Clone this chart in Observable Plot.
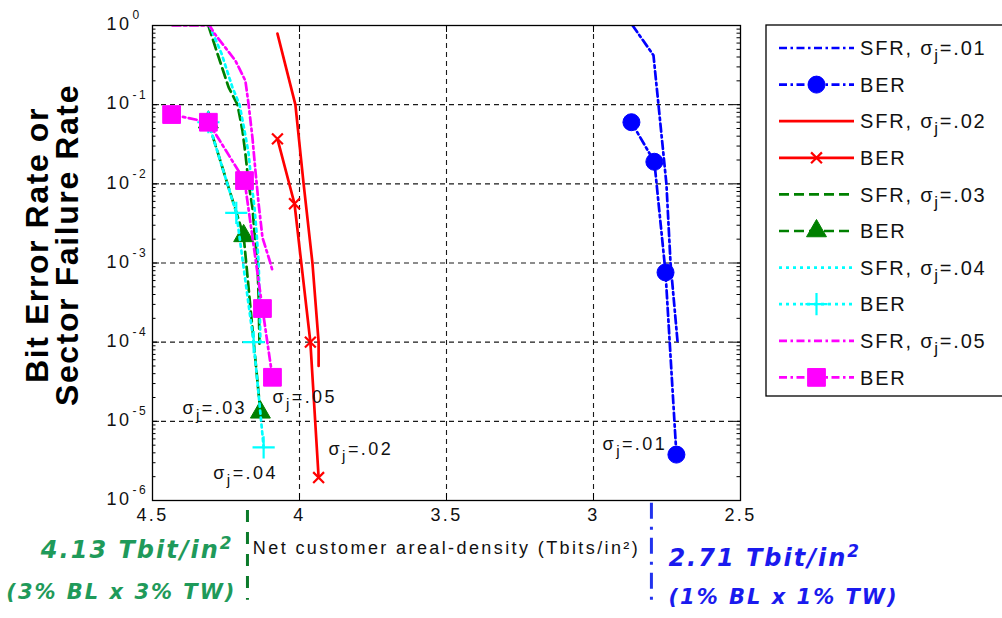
<!DOCTYPE html>
<html>
<head>
<meta charset="utf-8">
<script src="https://cdn.jsdelivr.net/npm/d3@7"></script>
<script src="https://cdn.jsdelivr.net/npm/@observablehq/plot@0.6"></script>
<style>
  html, body { margin: 0; padding: 0; background: #fff; }
  #chart { position: relative; width: 1002px; height: 618px; overflow: hidden; }
</style>
</head>
<body>
<div id="chart"></div>
<script>
// ---------- Data ----------
const sfr01X = [2.867, 2.796, 2.779, 2.752, 2.738, 2.714];
const sfr01Y = [1, 0.42, 0.1, 0.01, 1e-3, 1e-4];
const ber01X = [2.871, 2.793, 2.755, 2.718];
const ber01Y = [0.06, 0.019, 7.6e-4, 3.8e-6];

const sfr02X = [4.075, 4.014, 3.986, 3.956, 3.935, 3.935];
const sfr02Y = [0.79, 0.1, 0.01, 1e-3, 1e-4, 5e-5];
const ber02X = [4.075, 4.017, 3.963, 3.935];
const ber02Y = [0.037, 0.0056, 1e-4, 1.95e-6];

const sfr03X = [4.310, 4.279, 4.241, 4.211, 4.194, 4.184, 4.173, 4.160, 4.153, 4.143, 4.139, 4.136];
const sfr03Y = [1, 0.44, 0.165, 0.1, 0.047, 0.024, 0.01, 0.005, 0.0024, 1e-3, 3.7e-4, 9e-5];
const ber03X = [4.310, 4.190, 4.133];
const ber03Y = [0.06, 2.2e-3, 1.3e-5];

const sfr04X = [4.306, 4.265, 4.228, 4.204, 4.187, 4.173, 4.163, 4.153, 4.146, 4.139, 4.136, 4.133];
const sfr04Y = [1, 0.44, 0.165, 0.1, 0.047, 0.024, 0.01, 0.005, 0.0024, 1e-3, 3.7e-4, 1e-4];
const ber04X = [4.310, 4.215, 4.156, 4.122];
const ber04Y = [0.06, 4.3e-3, 1e-4, 4.7e-6];

const sfr05X = [4.432, 4.306, 4.289, 4.218, 4.184, 4.173, 4.160, 4.150, 4.139, 4.126, 4.099, 4.092];
const sfr05Y = [1, 1, 0.79, 0.36, 0.2, 0.1, 0.038, 0.0147, 0.0056, 0.0021, 1e-3, 8e-4];
const ber05X = [4.435, 4.310, 4.187, 4.126, 4.092];
const ber05Y = [0.075, 0.06, 0.011, 2.66e-4, 3.6e-5];

const legendNames = ["SFR, σj=.01", "BER", "SFR, σj=.02", "BER", "SFR, σj=.03", "BER",
                     "SFR, σj=.04", "BER", "SFR, σj=.05", "BER"];

const xTicks = [4.5, 4, 3.5, 3, 2.5];
const xTickLabels = ["4.5", "4", "3.5", "3", "2.5"];
const yTicks = [1, 1e-1, 1e-2, 1e-3, 1e-4, 1e-5, 1e-6];
const yTickExp = ["0", "-1", "-2", "-3", "-4", "-5", "-6"];
const gridX = [4, 3.5, 3];
const gridY = [1e-1, 1e-2, 1e-3, 1e-4, 1e-5];

const sigmaLabels = ["σj=.01", "σj=.02", "σj=.03", "σj=.04", "σj=.05"];
const sigmaLabelX = [2.969, 3.901, 4.398, 4.293, 4.092];
const sigmaLabelY = [5.2e-6, 4.5e-6, 1.45e-5, 2.2e-6, 2.0e-5];

const annotX = [4.177, 2.803];
const annotY1 = [7.5e-7, 9.2e-7];
const annotY2 = [5.5e-8, 4.7e-8];
const annotLine1 = ["4.13 Tbit/in²", "2.71 Tbit/in²"];
const annotLine2 = ["(3% BL x 3% TW)", "(1% BL x 1% TW)"];

const xLabel = "Net customer areal-density (Tbits/in²)";
const yLabel = "Bit Error Rate or\nSector Failure Rate";

// ---------- Styling ----------
const BLUE = "#0000ff", RED = "#ff0000", GREEN = "#008000", CYAN = "#00ffff", MAGENTA = "#ff00ff";
const DASHDOT = "8,3.5,2.5,3.5", DASHED = "10,5", DOTTED = "3,4", SOLID = null;
const LW = 2.7;

const series = [
  {x: sfr01X, y: sfr01Y, color: BLUE, dash: DASHDOT, symbol: null},
  {x: ber01X, y: ber01Y, color: BLUE, dash: DASHDOT, symbol: "circle", r: 8.5},
  {x: sfr02X, y: sfr02Y, color: RED, dash: SOLID, symbol: null},
  {x: ber02X, y: ber02Y, color: RED, dash: SOLID, symbol: "times", r: 5},
  {x: sfr03X, y: sfr03Y, color: GREEN, dash: DASHED, symbol: null},
  {x: ber03X, y: ber03Y, color: GREEN, dash: DASHED, symbol: "triangle", r: 7.4},
  {x: sfr04X, y: sfr04Y, color: CYAN, dash: DOTTED, symbol: null},
  {x: ber04X, y: ber04Y, color: CYAN, dash: DOTTED, symbol: "plus", r: 7.2},
  {x: sfr05X, y: sfr05Y, color: MAGENTA, dash: DASHDOT, symbol: null},
  {x: ber05X, y: ber05Y, color: MAGENTA, dash: DASHDOT, symbol: "square", r: 10}
].map((s, i) => ({...s, name: legendNames[i],
  rows: s.x.map((x, j) => ({x, y: s.y[j]}))}));

const yMinor = [];
for (let e = -6; e < 0; e++) for (let m = 2; m <= 9; m++) yMinor.push(m * Math.pow(10, e));

const W = 1002, H = 618;
const ML = 152, MR = 262, MT = 25, MB = 118;
const FW = W - ML - MR, FH = H - MT - MB;

const strokeSymbols = new Set(["plus", "times"]);

const seriesMarks = [];
for (const s of series) {
  seriesMarks.push(Plot.line(s.rows, {x: "x", y: "y", stroke: s.color, strokeWidth: LW,
    strokeDasharray: s.dash, strokeLinejoin: "miter", clip: true}));
  if (s.symbol) {
    const isStroke = strokeSymbols.has(s.symbol);
    seriesMarks.push(Plot.dot(s.rows, {x: "x", y: "y", symbol: s.symbol, r: s.r,
      fill: isStroke ? "none" : s.color, stroke: s.color, strokeWidth: isStroke ? 2.2 : 1}));
  }
}

const BOLDIT = "'DejaVu Sans', Verdana, sans-serif";

const plot = Plot.plot({
  width: W, height: H,
  marginLeft: ML, marginRight: MR, marginTop: MT, marginBottom: MB,
  x: {type: "linear", domain: [4.5, 2.5], axis: null},
  y: {type: "log", domain: [1e-6, 1], axis: null},
  style: {fontFamily: "'Liberation Sans', Arial, sans-serif", fontSize: "18px", color: "#111",
          background: "#fff", overflow: "visible"},
  marks: [
    // grid
    Plot.ruleX(gridX, {stroke: "#1a1a1a", strokeWidth: 1.1, strokeDasharray: "5,4"}),
    Plot.ruleY(gridY, {stroke: "#1a1a1a", strokeWidth: 1.1, strokeDasharray: "5,4"}),
    // inward ticks
    Plot.ruleY(yTicks, {insetRight: FW - 7, stroke: "#000"}),
    Plot.ruleY(yTicks, {insetLeft: FW - 7, stroke: "#000"}),
    Plot.ruleY(yMinor, {insetRight: FW - 3.5, stroke: "#000"}),
    Plot.ruleY(yMinor, {insetLeft: FW - 3.5, stroke: "#000"}),
    Plot.ruleX(xTicks, {insetTop: FH - 7, stroke: "#000"}),
    Plot.ruleX(xTicks, {insetBottom: FH - 7, stroke: "#000"}),
    // data
    ...seriesMarks,
    Plot.frame({stroke: "#000", strokeWidth: 1.3}),
    // tick labels
    Plot.text(yTicks, {y: d => d, text: () => "10", frameAnchor: "left", dx: -46, dy: -1,
      textAnchor: "start", fill: "#111"}),
    Plot.text(yTicks, {y: d => d, text: (d, i) => yTickExp[i], frameAnchor: "left", dx: -20, dy: -10,
      textAnchor: "start", fontSize: 12, fill: "#111"}),
    Plot.text(xTicks, {x: d => d, text: (d, i) => xTickLabels[i], frameAnchor: "bottom", dy: 20,
      textAnchor: "middle", fill: "#111"}),
    // axis titles
    Plot.text([xLabel], {text: d => d, frameAnchor: "bottom", dy: 53, textAnchor: "middle", fill: "#111"}),
    Plot.text([yLabel], {text: d => d, frameAnchor: "left", dx: -99, dy: -18, rotate: -90,
      textAnchor: "middle", lineAnchor: "middle",
      fontSize: 32, fontWeight: "bold", lineHeight: 0.94, fill: "#000",
      fontFamily: "'Liberation Sans', Arial, sans-serif"}),
    // sigma labels
    Plot.text(sigmaLabels, {x: (d, i) => sigmaLabelX[i], y: (d, i) => sigmaLabelY[i], text: d => d,
      textAnchor: "start", fill: "#111"}),
    // annotations below the axis
    Plot.ruleX([0], {x: () => annotX[0], y1: () => annotY1[0], y2: () => annotY2[0],
      stroke: "#0b7a2a", strokeWidth: 3, strokeDasharray: "12,10"}),
    Plot.ruleX([1], {x: () => annotX[1], y1: () => annotY1[1], y2: () => annotY2[1],
      stroke: "#2233ee", strokeWidth: 3, strokeDasharray: "16,8,3,8"}),
    Plot.text([annotLine1[0]], {x: () => annotX[0], text: d => d, frameAnchor: "bottom", dx: -14, dy: 57,
      textAnchor: "end", fill: "#1f9a5a", fontSize: 24, fontWeight: "bold", fontStyle: "italic",
      fontFamily: BOLDIT}),
    Plot.text([annotLine2[0]], {x: () => annotX[0], text: d => d, frameAnchor: "bottom", dx: -11, dy: 98,
      textAnchor: "end", fill: "#1f9a5a", fontSize: 21, fontWeight: "bold", fontStyle: "italic",
      fontFamily: BOLDIT}),
    Plot.text([annotLine1[1]], {x: () => annotX[1], text: d => d, frameAnchor: "bottom", dx: 17, dy: 65,
      textAnchor: "start", fill: "#1a1aee", fontSize: 24, fontWeight: "bold", fontStyle: "italic",
      fontFamily: BOLDIT}),
    Plot.text([annotLine2[1]], {x: () => annotX[1], text: d => d, frameAnchor: "bottom", dx: 17, dy: 103,
      textAnchor: "start", fill: "#1a1aee", fontSize: 21, fontWeight: "bold", fontStyle: "italic",
      fontFamily: BOLDIT})
  ]
});

document.getElementById("chart").appendChild(plot);

// ---------- Legend ----------
const svg = d3.select(plot);
const symbolMap = {circle: d3.symbolCircle, times: d3.symbolTimes, triangle: d3.symbolTriangle,
                   plus: d3.symbolPlus, square: d3.symbolSquare};
const lg = svg.append("g").attr("class", "legend");
lg.append("rect").attr("x", 766).attr("y", 25).attr("width", 250).attr("height", 371)
  .attr("fill", "#fff").attr("stroke", "#000").attr("stroke-width", 1.3);
series.forEach((s, i) => {
  const cy = 48 + i * 36.6;
  lg.append("line").attr("x1", 779).attr("x2", 854).attr("y1", cy).attr("y2", cy)
    .attr("stroke", s.color).attr("stroke-width", LW)
    .attr("stroke-dasharray", s.dash);
  if (s.symbol) {
    const isStroke = strokeSymbols.has(s.symbol);
    lg.append("path").attr("transform", `translate(816.5,${cy})`)
      .attr("d", d3.symbol(symbolMap[s.symbol], Math.PI * s.r * s.r)())
      .attr("fill", isStroke ? "none" : s.color).attr("stroke", s.color)
      .attr("stroke-width", isStroke ? 2.2 : 1);
  }
  lg.append("text").attr("x", 860).attr("y", cy).attr("dy", "0.36em")
    .attr("text-anchor", "start")
    .attr("font-size", 20).attr("fill", "#111").attr("letter-spacing", "1.8px").text(s.name);
});

// ---------- Text post-processing (letter spacing, sigma_j subscripts, superscript 2) ----------
svg.selectAll("text").each(function() {
  const el = d3.select(this);
  const p = d3.select(this.parentNode);
  const fw = el.attr("font-weight") || p.attr("font-weight");
  const fs = el.attr("font-style") || p.attr("font-style");
  if (el.attr("letter-spacing") == null) {
    let ls = "2.4px";
    if (fw === "bold" && fs !== "italic") ls = "1.6px";
    if (fs === "italic") ls = "2px";
    el.attr("letter-spacing", ls);
  }
  const t = this.textContent;
  if (t.includes("σj") && this.children.length === 0) {
    const [pre, post] = t.split("σj");
    el.text(null);
    if (pre) el.append("tspan").text(pre);
    el.append("tspan").text("σ");
    el.append("tspan").attr("dy", 6).attr("font-size", "0.85em").text("j");
    el.append("tspan").attr("dy", -6).text(post);
  } else if (fs === "italic" && t.includes("²") && this.children.length === 0) {
    const [pre, post] = t.split("²");
    el.text(null);
    el.append("tspan").text(pre);
    el.append("tspan").attr("dy", -9).attr("font-size", "0.7em").text("2");
    if (post) el.append("tspan").attr("dy", 9).text(post);
  }
});
</script>
</body>
</html>
